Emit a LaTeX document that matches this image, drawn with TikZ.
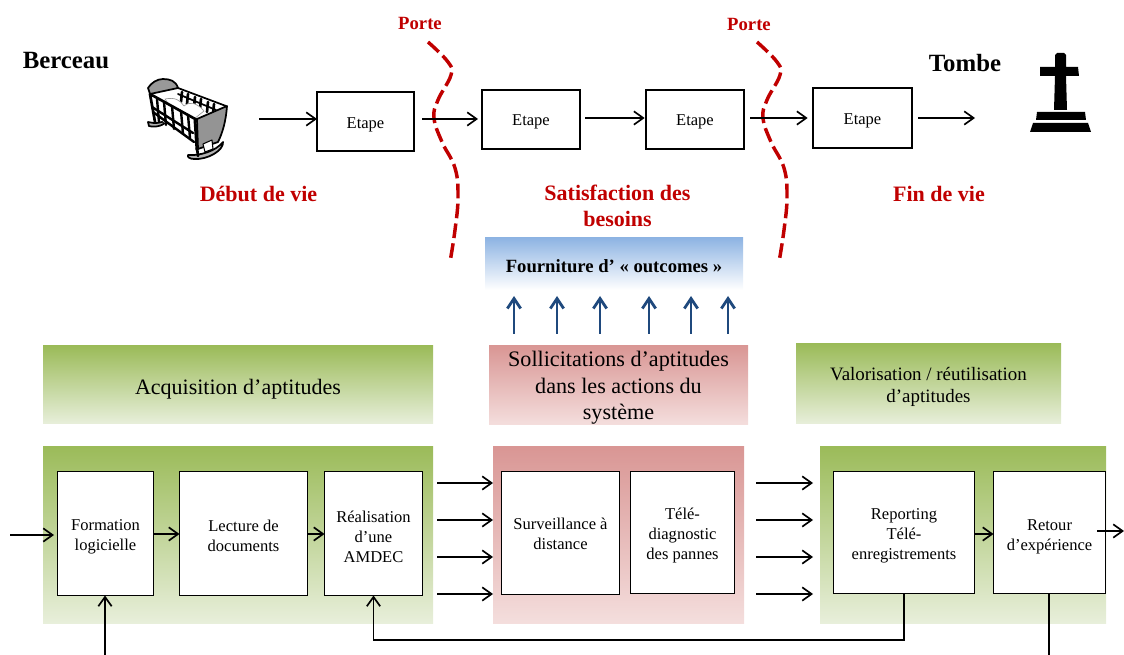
\documentclass[tikz,border=0pt]{standalone}
\usepackage{fontspec}
\setmainfont{Liberation Serif}
\usetikzlibrary{arrows.meta}
\definecolor{rouge}{HTML}{C00000}
\definecolor{bleufleche}{HTML}{1F497D}
\definecolor{vertA}{HTML}{9BBB59}
\definecolor{vertB}{HTML}{E8EFDB}
\definecolor{roseA}{HTML}{D99694}
\definecolor{roseB}{HTML}{F4DEDD}
\definecolor{bleuA}{HTML}{8EB4E3}
\tikzset{
  fleche/.style={-{Straight Barb[length=7pt,width=10pt]},line width=1.25pt,black},
  liaison/.style={line width=1.25pt,black},
  decale/.style={execute at begin node={\rule{0pt}{#1}}},
  etape/.style={draw=black,line width=1.25pt,fill=white,inner sep=0pt,outer sep=0pt,align=center,font=\fontsize{12.4}{15}\selectfont},
  vert/.style={inner sep=0pt,outer sep=0pt,align=center,top color=vertA,bottom color=vertB},
  rose/.style={inner sep=0pt,outer sep=0pt,align=center,top color=roseA,bottom color=roseB},
  rougebf/.style={text=rouge,font=\bfseries\fontsize{16.5}{20}\selectfont,align=center},
  noir/.style={font=\bfseries\fontsize{18.6}{20}\selectfont},
  motporte/.style={text=rouge,font=\bfseries\fontsize{14}{16}\selectfont},
  porte/.style={draw=rouge,line width=2.6pt,dash pattern=on 11pt off 4pt},
}
\begin{document}
\begin{tikzpicture}[x=0.75pt,y=-0.75pt]
\useasboundingbox (0,0) rectangle (1124,655);
% bandeaux
\node (titreA) [vert,decale=17.3pt,minimum width=292.5pt,minimum height=58.5pt,font=\fontsize{16.5}{20}\selectfont] at (238,385) {Acquisition d’aptitudes};
\node (titreS) [rose,decale=55.9pt,minimum width=194.25pt,minimum height=58.5pt,font=\fontsize{16.6}{20}\selectfont] at (618.5,385) {Sollicitations d’aptitudes\\dans les actions du\\système};
\node (titreV) [vert,decale=30.7pt,minimum width=198.75pt,minimum height=60pt,font=\fontsize{14.2}{16.5}\selectfont] at (928.5,384) {Valorisation / réutilisation\\d’aptitudes};
\node (fourniture) [inner sep=0pt,decale=12.6pt,top color=bleuA,bottom color=white,minimum width=193.5pt,minimum height=39pt,font=\bfseries\fontsize{14}{15}\selectfont] at (614,264) {Fourniture d’ « outcomes »};
% fonds
\node (fondA) [vert,minimum width=292.5pt,minimum height=132.75pt] at (238,535) {};
\node (fondS) [rose,minimum width=188.25pt,minimum height=132.75pt] at (618.5,535) {};
\node (fondV) [vert,minimum width=214.5pt,minimum height=132.75pt] at (963,535) {};
% etapes du haut
\node (e1) [etape,decale=13pt,minimum width=72.75pt,minimum height=44.25pt] at (365.5,121.5) {Etape};
\node (e2) [etape,decale=12pt,minimum width=73.5pt,minimum height=44.25pt] at (531,119.5) {Etape};
\node (e3) [etape,decale=12pt,minimum width=73.5pt,minimum height=44.25pt] at (695,119.5) {Etape};
\node (e4) [etape,decale=12pt,minimum width=74.25pt,minimum height=45pt] at (862.5,118) {Etape};
% blocs du bas
\node (formation) [etape,decale=27.9pt,minimum width=72pt,minimum height=93pt] at (105.5,533.5) {Formation\\logicielle};
\node (lecture) [etape,decale=26.4pt,minimum width=96pt,minimum height=93pt] at (243.5,533.5) {Lecture de\\documents};
\node (amdec) [etape,decale=42.9pt,minimum width=73.5pt,minimum height=93pt] at (373.5,533.5) {Réalisation\\d’une\\AMDEC};
\node (surveillance) [etape,decale=24.9pt,minimum width=88.5pt,minimum height=92.25pt] at (560.5,533) {Surveillance à\\distance};
\node (diagnostic) [etape,decale=42.9pt,minimum width=78pt,minimum height=91.5pt] at (682.5,532.5) {Télé-\\diagnostic\\des pannes};
\node (reporting) [etape,decale=42.9pt,minimum width=105.75pt,minimum height=91.5pt] at (904,532.5) {Reporting\\Télé-\\enregistrements};
\node (retour) [etape,decale=29.4pt,minimum width=84pt,minimum height=91.5pt] at (1049.5,532.5) {Retour\\d’expérience};
% textes
\node (berceau) [noir] at (66,61) {Berceau};
\node (tombe) [noir] at (965,63) {Tombe};
\node (porte1) [motporte] at (420,23) {Porte};
\node (porte2) [motporte] at (749,24) {Porte};
\node (debut) [rougebf] at (258.5,194) {Début de vie};
\node (besoins) [rougebf] at (617.5,206) {Satisfaction des\\besoins};
\node (fin) [rougebf] at (939,194) {Fin de vie};
% portes
\foreach \dx in {0,329} {
  \draw[porte,xshift=\dx*0.75pt] plot[smooth,tension=0.7] coordinates {(428,42) (448,62) (451,75) (438,100) (434,118) (442,142) (455,168) (458,197) (455,230) (450,262)};
}
% fleches du haut
\coordinate (d0) at (259,119);
\coordinate (d1) at (422,119);
\coordinate (d2) at (585,118);
\coordinate (d3) at (750,118);
\coordinate (d4) at (918,118);
\coordinate (f4) at (975,118);
\draw[fleche] (d0) -- (d0 -| e1.west);
\draw[fleche,shorten >=3pt] (d1) -- (d1 -| e2.west);
\draw[fleche,shorten >=1pt] (d2) -- (d2 -| e3.west);
\draw[fleche,shorten >=4pt] (d3) -- (d3 -| e4.west);
\draw[fleche] (d4) -- (f4);
% fleches bleues
\foreach \x in {514,557,600,649,691,728} {
  \coordinate (b\x) at (\x,334);
  \coordinate (h\x) at (\x,296);
  \draw[-{Straight Barb[length=7.5pt,width=10pt]},line width=2.1pt,bleufleche] (b\x) -- (h\x);
}
% fleches du bas
\coordinate (entree) at (10,535);
\coordinate (sortie) at (1097,531);
\coordinate (finS) at (1124,531);
\coordinate (basF) at (105,655);
\coordinate (basR) at (1049,655);
\coordinate (retourbas) at (905,640);
\draw[fleche] (entree) -- (54,535);
\draw[fleche] (formation.east |- 0,534) -- (lecture.west |- 0,534);
\draw[fleche] (lecture.east |- 0,534) -- (amdec.west |- 0,534);
\draw[fleche] (reporting.east |- 0,534) -- (retour.west |- 0,534);
\draw[fleche] (sortie) -- (finS);
\draw[fleche] (basF) -- (formation.south -| basF);
\draw[liaison] (retour.south -| basR) -- (basR);
\draw[fleche] (reporting.south) |- (amdec.south |- retourbas) -- (amdec.south);
\foreach \y in {483,520,557,594} {
  \coordinate (a\y) at (437,\y);
  \coordinate (c\y) at (756,\y);
  \draw[fleche] (a\y) -- (a\y -| fondS.west);
  \draw[fleche] (c\y) -- (813,\y);
}
% tombe
\fill[black] (1055,55) -- (1057,53) -- (1064,53) -- (1066,55) -- (1066,67) -- (1078,67) -- (1079,76) -- (1066,76) -- (1067,110) -- (1054,110) -- (1055,76) -- (1040,76) -- (1040,67) -- (1055,67) -- cycle;
\fill[black] (1037,112) -- (1085,112) -- (1086,120) -- (1036,120) -- cycle;
\fill[black] (1033,123) -- (1088,123) -- (1091,132) -- (1030,132) -- cycle;
% berceau
\begin{scope}[line width=1.3pt,line join=round,line cap=round]
\draw[fill=black!30] (148,122) .. controls (155,124) and (162,123) .. (166,120) .. controls (166,125) and (156,128) .. (149,126) -- cycle;
\draw[fill=black!30] (188,155) .. controls (200,156) and (216,151) .. (223,142) .. controls (224,150) and (208,160) .. (194,159) .. controls (190,159) and (187,157) .. (188,155) -- cycle;
\fill[white] (150,94) -- (178,88) -- (226,106) -- (197,120) -- (196,146) -- (153,114) -- cycle;
\draw (178,88) -- (226,106);
\draw (178,94) -- (216,110);
\foreach \xa/\ya in {182/92,188/94,195/97,201/99,208/102,214/104} {
  \draw[line width=2pt] (\xa,\ya) -- (\xa-1,\ya+10);
}
\draw[fill=white,line width=0.5pt,draw=black!40] (165,99) .. controls (175,97) and (180,100) .. (184,106) .. controls (190,101) and (197,103) .. (204,111) -- (194,119) -- (170,106) -- cycle;
\foreach \xa/\ya in {157/99,164/102,172/106,181/111,188/115} {
  \draw[line width=1.8pt] (\xa,\ya) -- (\xa+2,\ya+23);
}
\draw[line width=2pt] (150,94) -- (197,120);
\draw[line width=1.8pt] (152,107) -- (193,133);
\draw[line width=1.8pt] (153,112) -- (194,142);
\draw[line width=2pt] (150,94) -- (155,122);
\draw[line width=2.2pt] (195,120) -- (197,150);
\draw[line width=2pt] (197,148) -- (198,156);
\draw[fill=black!40] (148,88) .. controls (151,83) and (157,79) .. (163,79) .. controls (170,79) and (176,81) .. (178,88) -- (150,94) -- cycle;
\draw[fill=black!42] (197,119) -- (227,106) .. controls (226,120) and (223,132) .. (218,142) -- (198,149) -- cycle;
\draw[fill=white,line width=0.8pt] (203,144) -- (212,140) -- (213,149) -- (205,152) -- cycle;
\end{scope}
\end{tikzpicture}
\end{document}
